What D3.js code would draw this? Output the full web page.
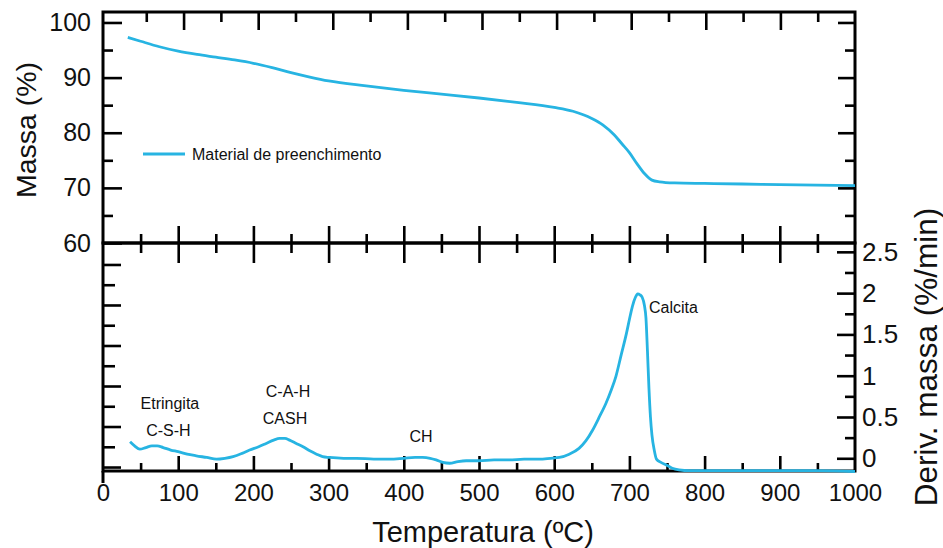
<!DOCTYPE html>
<html>
<head>
<meta charset="utf-8">
<script src="https://cdn.jsdelivr.net/npm/d3@7"></script>
<style>
  html, body { margin: 0; padding: 0; background: #fff; }
  svg { display: block; }
  text { font-family: "Liberation Sans", Arial, sans-serif; fill: #111; }
</style>
</head>
<body>
<svg id="chart" width="943" height="548"></svg>
<script>
// Thermogravimetric curve (mass %) vs temperature (°C)
const tgaTemp = [33, 50, 75, 100, 125, 150, 175, 200, 225, 250, 275, 300, 350, 400, 450, 500, 550, 600,
  625, 650, 665, 680, 690, 700, 710, 720, 730, 740, 760, 800, 850, 900, 950, 1000];
const tgaMass = [97.3, 96.6, 95.6, 94.8, 94.2, 93.7, 93.2, 92.6, 91.8, 90.9, 90.1, 89.4, 88.5, 87.7, 87.0, 86.3, 85.5, 84.6,
  83.9, 82.6, 81.4, 79.6, 78.0, 76.4, 74.4, 72.6, 71.4, 71.1, 70.9, 70.8, 70.7, 70.6, 70.5, 70.4];

// Derivative curve (%/min) vs temperature (°C)
const dtgTemp = [36, 42, 49, 57, 65, 72, 80, 90, 100, 112, 124, 138, 151, 162, 173, 185, 195, 207, 217, 227,
  235, 242, 248, 257, 266, 275, 284, 292, 301, 320, 337, 360, 381, 400, 415, 425, 435, 443, 452, 461,
  472, 483, 500, 520, 540, 560, 580, 595, 607, 620, 633, 642, 651, 660, 669, 676, 682, 689, 696, 700,
  704, 708, 711, 714, 717, 720, 722, 724, 726, 728, 730, 733, 736, 742, 749, 757, 766, 780, 800, 850,
  900, 950, 1000];
const dtgRate = [0.20, 0.15, 0.11, 0.13, 0.15, 0.15, 0.13, 0.10, 0.08, 0.05, 0.03, 0.01, -0.01, 0.00, 0.02, 0.06, 0.10, 0.14, 0.18, 0.22,
  0.24, 0.24, 0.22, 0.18, 0.14, 0.09, 0.05, 0.02, 0.01, 0.00, 0.00, -0.01, -0.01, 0.00, 0.01, 0.01, 0.00, -0.02, -0.05, -0.06,
  -0.04, -0.03, -0.03, -0.02, -0.02, -0.01, -0.01, 0.00, 0.01, 0.05, 0.12, 0.21, 0.34, 0.50, 0.67, 0.83, 0.99, 1.25, 1.51, 1.68,
  1.84, 1.95, 1.99, 1.98, 1.95, 1.85, 1.70, 1.30, 0.85, 0.50, 0.28, 0.10, -0.01, -0.05, -0.08, -0.12, -0.14, -0.15, -0.15, -0.15,
  -0.15, -0.15, -0.16];

// Tick values
const xTicks = [0, 100, 200, 300, 400, 500, 600, 700, 800, 900, 1000];
const xMinorTicks = [50, 150, 250, 350, 450, 550, 650, 750, 850, 950];
const massTicks = [60, 70, 80, 90, 100];
const massMinorTicks = [65, 75, 85, 95];
const rateTicks = [0, 0.5, 1, 1.5, 2, 2.5];
const rateMinorTicks = [0.25, 0.75, 1.25, 1.75, 2.25];

// Peak annotations on the derivative curve
const peakText = ["Etringita", "C-S-H", "C-A-H", "CASH", "CH"];
const peakTemp = [89, 87, 246, 242, 423];
const peakRate = [0.67, 0.34, 0.81, 0.48, 0.26];
const calcitaText = "Calcita";
const calcitaTemp = 726;
const calcitaRate = 1.83;

const legendLabel = "Material de preenchimento";

const CURVE = "#27b4e2";
const L = 103, R = 855, TOP = 12, MID = 243, BOT = 471;

const svg = d3.select("#chart");

const x = d3.scaleLinear().domain([0, 1000]).range([L, R]);
const xTop = d3.scaleLinear().domain([-8, 1000]).range([L, R]);
const yMass = d3.scaleLinear().domain([60, 101.9]).range([MID, TOP]);
const yRate = d3.scaleLinear().domain([-0.154, 2.607]).range([BOT, MID]);
const yLeftLow = d3.scaleLinear().domain([-0.049, 2.765]).range([BOT, MID]);

function styleAxis(g, fontSize) {
  g.select(".domain").remove();
  g.selectAll(".tick line").attr("stroke", "#000").attr("stroke-width", 2.6);
  g.selectAll(".tick text").attr("font-size", fontSize).attr("fill", "#111")
    .attr("font-family", "Liberation Sans, Arial, sans-serif");
}

// ---- Top panel axes ----
svg.append("g").attr("transform", `translate(${L},0)`)
  .call(d3.axisLeft(yMass).tickValues(massTicks).tickSize(-19).tickPadding(12).tickFormat(d3.format("d")))
  .call(g => styleAxis(g, 25));
svg.append("g").attr("transform", `translate(${L},0)`)
  .call(d3.axisLeft(yMass).tickValues(massMinorTicks).tickSize(-10).tickFormat(""))
  .call(g => styleAxis(g, 0));
svg.append("g").attr("transform", `translate(${R},0)`)
  .call(d3.axisRight(yMass).tickValues(massTicks.filter(d => d > 60)).tickSize(-17).tickFormat(""))
  .call(g => styleAxis(g, 0));
svg.append("g").attr("transform", `translate(${R},0)`)
  .call(d3.axisRight(yMass).tickValues(massMinorTicks).tickSize(-10).tickFormat(""))
  .call(g => styleAxis(g, 0));
svg.append("g").attr("transform", `translate(0,${TOP})`)
  .call(d3.axisTop(xTop).tickValues([100, 200, 300, 400, 500, 600, 700, 800, 900]).tickSize(-18).tickFormat(""))
  .call(g => styleAxis(g, 0));
svg.append("g").attr("transform", `translate(0,${TOP})`)
  .call(d3.axisTop(xTop).tickValues(xMinorTicks.filter(d => d < 1000)).tickSize(-10).tickFormat(""))
  .call(g => styleAxis(g, 0));
// ticks on the shared middle line (up for the mass panel)
svg.append("g").attr("transform", `translate(0,${MID})`)
  .call(d3.axisBottom(x).tickValues(xTicks.slice(1, -1)).tickSize(-17).tickFormat(""))
  .call(g => styleAxis(g, 0));
svg.append("g").attr("transform", `translate(0,${MID})`)
  .call(d3.axisBottom(x).tickValues(xMinorTicks).tickSize(-9).tickFormat(""))
  .call(g => styleAxis(g, 0));

// ---- Bottom panel axes ----
svg.append("g").attr("transform", `translate(0,${MID})`)
  .call(d3.axisTop(x).tickValues(xTicks.slice(1, -1)).tickSize(-20).tickFormat(""))
  .call(g => styleAxis(g, 0));
svg.append("g").attr("transform", `translate(0,${MID})`)
  .call(d3.axisTop(x).tickValues(xMinorTicks).tickSize(-10).tickFormat(""))
  .call(g => styleAxis(g, 0));
svg.append("g").attr("transform", `translate(0,${BOT})`)
  .call(d3.axisBottom(x).tickValues(xTicks).tickSize(-15).tickPadding(13).tickFormat(d3.format("d")))
  .call(g => styleAxis(g, 24))
  .call(g => g.selectAll(".tick line").filter(d => d === 0 || d === 1000).remove());
svg.append("g").attr("transform", `translate(0,${BOT})`)
  .call(d3.axisBottom(x).tickValues(xMinorTicks).tickSize(-8).tickFormat(""))
  .call(g => styleAxis(g, 0));
svg.append("g").attr("transform", `translate(${R},0)`)
  .call(d3.axisRight(yRate).tickValues(rateTicks).tickSize(-18).tickPadding(7).tickFormat(d => d === 0 ? "0" : d3.format("")(d)))
  .call(g => styleAxis(g, 26));
svg.append("g").attr("transform", `translate(${R},0)`)
  .call(d3.axisRight(yRate).tickValues(rateMinorTicks).tickSize(-10).tickFormat(""))
  .call(g => styleAxis(g, 0));
svg.append("g").attr("transform", `translate(${L},0)`)
  .call(d3.axisLeft(yLeftLow).tickValues(rateTicks).tickSize(-18).tickFormat(""))
  .call(g => styleAxis(g, 0));
svg.append("g").attr("transform", `translate(${L},0)`)
  .call(d3.axisLeft(yLeftLow).tickValues(rateMinorTicks).tickSize(-12).tickFormat(""))
  .call(g => styleAxis(g, 0));

// ---- Frames ----
const frame = svg.append("g").attr("fill", "none").attr("stroke", "#000").attr("stroke-width", 3);
frame.append("rect").attr("x", L).attr("y", TOP).attr("width", R - L).attr("height", MID - TOP);
frame.append("rect").attr("x", L).attr("y", MID).attr("width", R - L).attr("height", BOT - MID);
frame.append("line").attr("x1", L).attr("x2", L).attr("y1", BOT).attr("y2", BOT + 12);

// ---- Curves ----
const tgaLine = d3.line().x(d => x(d[0])).y(d => yMass(d[1])).curve(d3.curveMonotoneX);
svg.append("path")
  .datum(d3.zip(tgaTemp, tgaMass))
  .attr("d", tgaLine)
  .attr("fill", "none").attr("stroke", CURVE).attr("stroke-width", 2.8);

const dtgLine = d3.line().x(d => x(d[0])).y(d => yRate(d[1])).curve(d3.curveMonotoneX);
svg.append("path")
  .datum(d3.zip(dtgTemp, dtgRate))
  .attr("d", dtgLine)
  .attr("fill", "none").attr("stroke", CURVE).attr("stroke-width", 2.8);

// ---- Legend ----
const legY = 154;
svg.append("line").attr("x1", 143).attr("x2", 185).attr("y1", legY).attr("y2", legY)
  .attr("stroke", CURVE).attr("stroke-width", 2.8);
svg.append("text").attr("x", 192).attr("y", legY).attr("dy", "0.35em")
  .attr("font-size", 16).text(legendLabel);

// ---- Annotations ----
svg.append("g").selectAll("text")
  .data(d3.range(peakText.length))
  .join("text")
  .attr("x", i => x(peakTemp[i]))
  .attr("y", i => yRate(peakRate[i]))
  .attr("dy", "0.35em")
  .attr("text-anchor", "middle")
  .attr("font-size", 16)
  .text(i => peakText[i]);
svg.append("text")
  .attr("x", x(calcitaTemp)).attr("y", yRate(calcitaRate)).attr("dy", "0.35em")
  .attr("font-size", 16).text(calcitaText);

// ---- Axis titles ----
svg.append("text")
  .attr("transform", `translate(26,130) rotate(-90)`)
  .attr("text-anchor", "middle").attr("dy", "0.35em")
  .attr("font-size", 28.5).text("Massa (%)");
svg.append("text")
  .attr("transform", `translate(926,357) rotate(-90)`)
  .attr("text-anchor", "middle").attr("dy", "0.35em")
  .attr("font-size", 31.5).text("Deriv. massa (%/min)");
svg.append("text")
  .attr("x", (L + R) / 2 + 4).attr("y", 532).attr("dy", "0.35em")
  .attr("text-anchor", "middle")
  .attr("font-size", 29).text("Temperatura (ºC)");
</script>
</body>
</html>
